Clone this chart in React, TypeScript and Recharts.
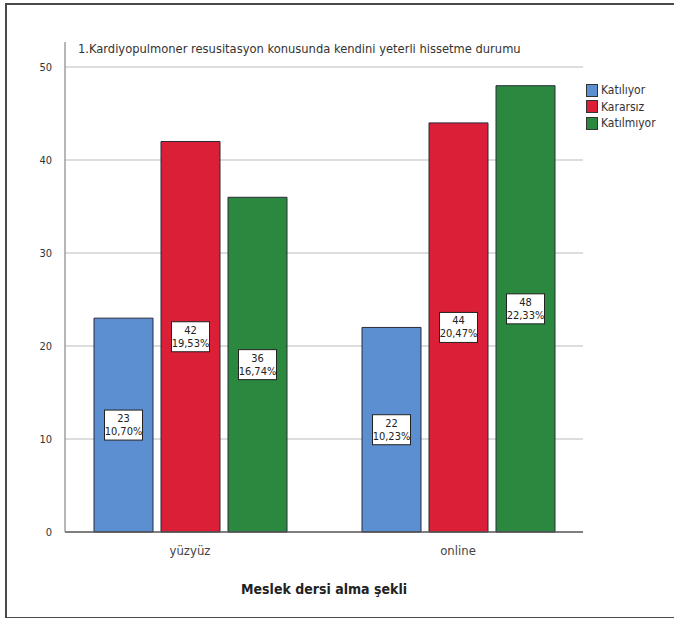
import React from "react"
import { BarChart, Bar, XAxis, YAxis, CartesianGrid, LabelList } from "recharts"

const categories = ["yüzyüz", "online"]
const katiliyor = [23, 22]
const kararsiz = [42, 44]
const katilmiyor = [36, 48]
const katiliyorPct = ["10,70%", "10,23%"]
const kararsizPct = ["19,53%", "20,47%"]
const katilmiyorPct = ["16,74%", "22,33%"]
const yTicks = [0, 10, 20, 30, 40, 50]

const FONT = "'Liberation Sans Narrow', 'Arial Narrow', 'DejaVu Sans Condensed', sans-serif"

const series = [
  { key: "katiliyor", name: "Katılıyor", color: "#5B8FD2", pct: katiliyorPct },
  { key: "kararsiz", name: "Kararsız", color: "#DA1F36", pct: kararsizPct },
  { key: "katilmiyor", name: "Katılmıyor", color: "#2B893F", pct: katilmiyorPct },
]

const data = categories.map((c, i) => ({
  cat: c,
  katiliyor: katiliyor[i],
  kararsiz: kararsiz[i],
  katilmiyor: katilmiyor[i],
}))

function ValueBox(props: any) {
  const { x, y, width, height, value, pct } = props
  const cx = x + width / 2
  const cy = y + height / 2
  const w = 38
  const h = 30
  return (
    <g>
      <rect x={cx - w / 2} y={cy - h / 2} width={w} height={h} fill="#fff" stroke="#222" strokeWidth={1} />
      <text x={cx} y={cy - 3} textAnchor="middle" fontSize={11} fontFamily={FONT} fill="#222">{value}</text>
      <text x={cx} y={cy + 10} textAnchor="middle" fontSize={11} fontFamily={FONT} fill="#222">{pct}</text>
    </g>
  )
}

export default function App() {
  return (
    <div style={{ position: "absolute", left: 0, top: 0, width: 674, height: 618, background: "#fff", overflow: "hidden" }}>
      {/* outer frame, right edge is cut off in the source */}
      <div style={{
        position: "absolute", left: 5, top: 3, width: 700, height: 612,
        borderTop: "2px solid #4a4a4a", borderLeft: "2px solid #4a4a4a", borderBottom: "2px solid #4a4a4a",
      }} />

      <div style={{
        position: "absolute", left: 78, top: 41, fontFamily: FONT, fontSize: 12.8, color: "#333", whiteSpace: "nowrap",
      }}>
        1.Kardiyopulmoner resusitasyon konusunda kendini yeterli hissetme durumu
      </div>

      {/* legend */}
      <div style={{ position: "absolute", left: 586, top: 82, fontFamily: FONT, fontSize: 12, color: "#333" }}>
        {series.map((s) => (
          <div key={s.key} style={{ display: "flex", alignItems: "center", height: 16.5 }}>
            <span style={{ width: 10, height: 11, background: s.color, border: "1px solid #333", display: "inline-block", marginRight: 3 }} />
            <span>{s.name}</span>
          </div>
        ))}
      </div>

      <div style={{ position: "absolute", left: 0, top: 0 }}>
        <BarChart
          width={674}
          height={618}
          data={data}
          margin={{ top: 42, right: 91, left: 0, bottom: 56 }}
          barCategoryGap={38}
          barGap={8}
        >
          <CartesianGrid horizontal vertical={false} horizontalValues={yTicks.slice(1)} stroke="#d2d2d2" strokeWidth={1.5} />
          <XAxis
            dataKey="cat"
            height={30}
            padding={{ left: -9, right: -9 }}
            tickLine={false}
            tickSize={0}
            tickMargin={14}
            axisLine={{ stroke: "#555", strokeWidth: 1.5 }}
            tick={{ fontSize: 13, fill: "#444", fontFamily: FONT }}
          />
          <YAxis
            width={65}
            domain={[0, 52.7]}
            ticks={yTicks}
            tickLine={false}
            tickSize={0}
            tickMargin={13}
            axisLine={{ stroke: "#888", strokeWidth: 1.2 }}
            tick={{ fontSize: 11, fill: "#333", fontFamily: FONT }}
          />
          {series.map((s) => (
            <Bar key={s.key} dataKey={s.key} name={s.name} fill={s.color} stroke="#2b2b3a" strokeWidth={1} isAnimationActive={false}>
              <LabelList dataKey={s.key} content={(p: any) => <ValueBox {...p} pct={s.pct[p.index]} />} />
            </Bar>
          ))}
        </BarChart>
      </div>

      <div style={{
        position: "absolute", left: 0, width: 648, top: 581, textAlign: "center",
        fontFamily: FONT, fontSize: 14, fontWeight: "bold", color: "#222",
      }}>
        Meslek dersi alma şekli
      </div>
    </div>
  )
}
